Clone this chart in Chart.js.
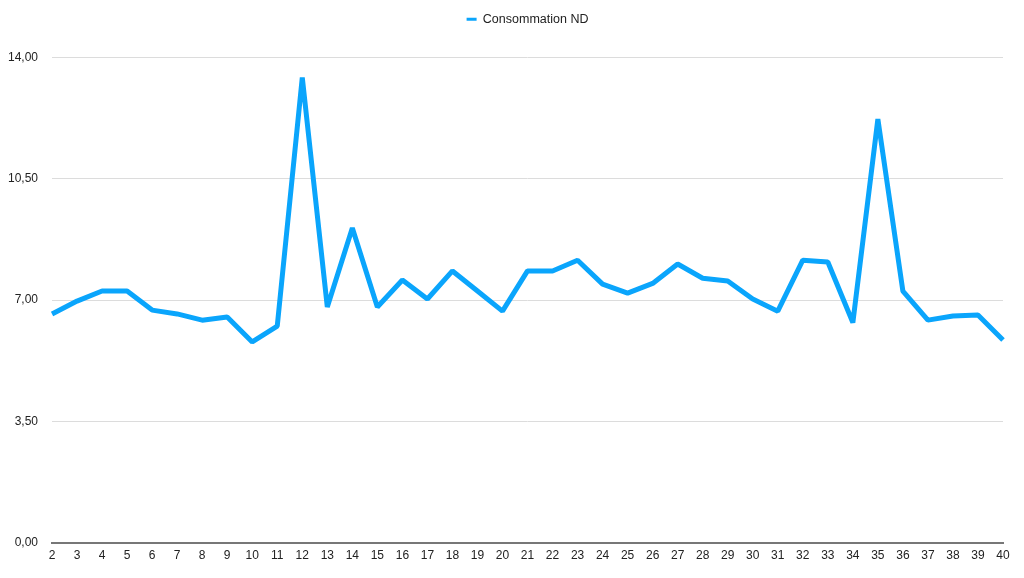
<!DOCTYPE html>
<html>
<head>
<meta charset="utf-8">
<script src="https://cdn.jsdelivr.net/npm/chart.js@4"></script>
<style>
  html, body { margin: 0; padding: 0; background: #fff; }
  #wrap { width: 1024px; height: 578px; }
</style>
</head>
<body>
<div id="wrap"><canvas id="consoChart"></canvas></div>
<script>
const jours = ['2','3','4','5','6','7','8','9','10','11','12','13','14','15','16','17','18','19','20','21',
               '22','23','24','25','26','27','28','29','30','31','32','33','34','35','36','37','38','39','40'];
const consommationND = [6.60, 6.97, 7.26, 7.26, 6.71, 6.60, 6.42, 6.51, 5.79, 6.25,
                        13.42, 6.80, 9.08, 6.80, 7.58, 7.03, 7.84, 7.26, 6.68, 7.84,
                        7.84, 8.15, 7.46, 7.20, 7.48, 8.04, 7.63, 7.55, 7.03, 6.68,
                        8.15, 8.10, 6.35, 12.22, 7.26, 6.42, 6.54, 6.57, 5.85];
const yTicks = [0, 3.5, 7, 10.5, 14];

Chart.defaults.font.family = '"Liberation Sans", Arial, sans-serif';
Chart.defaults.font.size = 12;
Chart.defaults.color = '#222';

// give the legend some extra room below it
const legendSpace = {
    id: 'legendSpace',
    beforeInit(chart) {
        const fit = chart.legend.fit;
        chart.legend.fit = function () {
            fit.bind(chart.legend)();
            this.height += 22;
        };
    }
};

const ctx = document.getElementById('consoChart').getContext('2d');
new Chart(ctx, {
    type: 'line',
    data: {
        labels: jours,
        datasets: [{
            label: 'Consommation ND',
            data: consommationND,
            borderColor: '#0aa5fc',
            backgroundColor: '#0aa5fc',
            borderWidth: 5,
            borderJoinStyle: 'bevel',
            pointRadius: 0,
            tension: 0,
            fill: false,
        }]
    },
    options: {
        responsive: true,
        maintainAspectRatio: false,
        animation: false,
        layout: { padding: { left: -6, right: 21, top: 1, bottom: 9 } },
        plugins: {
            legend: {
                position: 'top',
                fullSize: false,
                labels: {
                    usePointStyle: true,
                    pointStyle: 'line',
                    pointStyleWidth: 10,
                    boxWidth: 10,
                    padding: 12,
                    color: '#222',
                    font: { size: 12.5 },
                    generateLabels: chart => {
                        const items = Chart.defaults.plugins.legend.labels.generateLabels(chart);
                        items.forEach(it => { it.lineWidth = 3; });
                        return items;
                    },
                },
            },
            tooltip: { enabled: false },
        },
        scales: {
            x: {
                offset: false,
                grid: { display: false, drawTicks: false },
                border: { display: true, color: '#777', width: 2 },
                ticks: { autoSkip: false, maxRotation: 0, padding: 6 },
            },
            y: {
                min: 0,
                max: 14,
                afterBuildTicks: axis => { axis.ticks = yTicks.map(v => ({ value: v })); },
                grid: { color: '#dcdcdc', lineWidth: 1, drawTicks: false },
                border: { display: false },
                ticks: {
                    padding: 14,
                    callback: v => v.toFixed(2).replace('.', ','),
                },
            }
        }
    },
    plugins: [legendSpace]
});
</script>
</body>
</html>
